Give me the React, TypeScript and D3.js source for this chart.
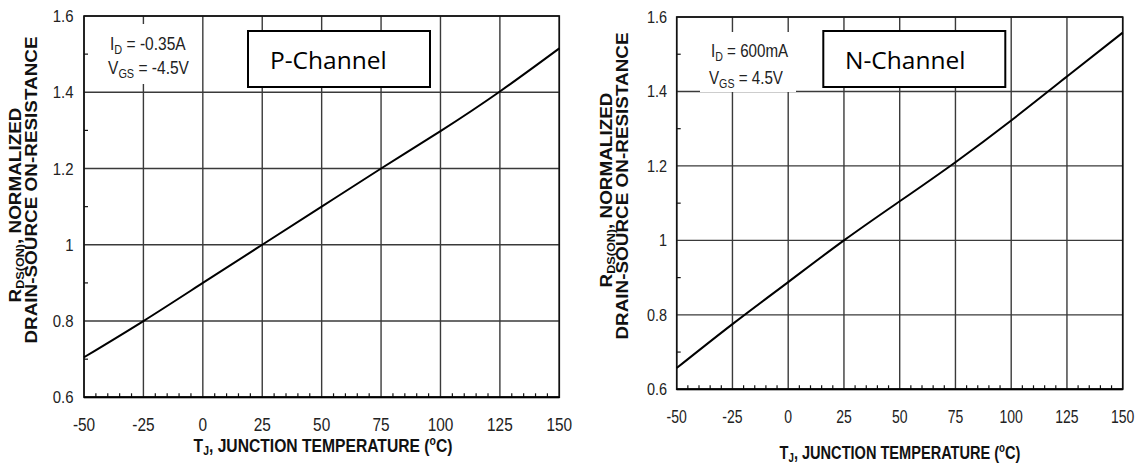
import React from 'react';
import * as d3 from 'd3';

// temperature points (deg C) and normalized RDS(on)
const temps = [-50, -25, 0, 25, 50, 75, 100, 125, 150];
const pChannel = [0.705, 0.8, 0.9, 1.0, 1.1, 1.2, 1.298, 1.402, 1.515];
const nChannel = [0.657, 0.775, 0.888, 1.0, 1.105, 1.21, 1.322, 1.44, 1.558];

const xTicks = [-50, -25, 0, 25, 50, 75, 100, 125, 150];
const xTickLabels = ['-50', '-25', '0', '25', '50', '75', '100', '125', '150'];
const yTicks = [0.6, 0.8, 1, 1.2, 1.4, 1.6];
const yTickLabels = ['0.6', '0.8', '1', '1.2', '1.4', '1.6'];
const xMinor = d3.range(-45, 150, 5).filter(t => t % 25 !== 0);
const yMinor = [0.7, 0.9, 1.1, 1.3, 1.5];

const panels = [
  {
    key: 'p',
    values: pChannel,
    channel: 'P-Channel',
    id: '-0.35A',
    vgs: '-4.5V',
    x0: 84, x1: 559.3, y0: 16, y1: 397.3,
    xLabelY: 430.5, xLabelSx: 0.88,
    yLabelRight: 73.5, yLabelSx: 0.88,
    xTitleX: 323, xTitleY: 451.5, xTitleSx: 0.87,
    yT1: { x: 20.5, y: 205 }, yT2: { x: 36.5, y: 190 },
    note: { x: 110, y1: 50, y2: 74, box: [100, 24, 95, 60], sx: 0.84 },
    chBox: [248, 31, 182, 56], chText: { x: 270, y: 69 },
  },
  {
    key: 'n',
    values: nChannel,
    channel: 'N-Channel',
    id: '600mA',
    vgs: '4.5V',
    x0: 676.7, x1: 1122.7, y0: 17, y1: 389.3,
    xLabelY: 422.5, xLabelSx: 0.8,
    yLabelRight: 667, yLabelSx: 0.85,
    xTitleX: 900, xTitleY: 458.5, xTitleSx: 0.81,
    yT1: { x: 611.5, y: 190 }, yT2: { x: 628.3, y: 186 },
    note: { x: 711, y1: 57, y2: 84, box: [700, 32, 96, 60], sx: 0.82 },
    chBox: [823.3, 31, 182, 56], chText: { x: 845, y: 69 },
  },
];

const grid = '#3a3a3a';
const txt = '#222';
const sans = "'Liberation Sans', Arial, sans-serif";

const Panel = ({ p }: { p: typeof panels[number] }) => {
  const x = d3.scaleLinear().domain([-50, 150]).range([p.x0, p.x1]);
  const y = d3.scaleLinear().domain([0.6, 1.6]).range([p.y1, p.y0]);
  const line = d3.line<number>()
    .x((_, i) => x(temps[i]))
    .y(d => y(d))
    .curve(d3.curveNatural);

  return (
    <g>
      {/* grid */}
      {xTicks.map(t => (
        <line key={'gx' + t} x1={x(t)} x2={x(t)} y1={p.y0} y2={p.y1} stroke={grid} strokeWidth={1.4} />
      ))}
      {yTicks.map(t => (
        <line key={'gy' + t} x1={p.x0} x2={p.x1} y1={y(t)} y2={y(t)} stroke={grid} strokeWidth={1.4} />
      ))}
      {/* minor ticks */}
      {xMinor.map(t => (
        <line key={'mx' + t} x1={x(t)} x2={x(t)} y1={p.y1} y2={p.y1 - 4} stroke="#111" strokeWidth={1.2} />
      ))}
      {yMinor.map(t => (
        <line key={'my' + t} x1={p.x0} x2={p.x0 + 4} y1={y(t)} y2={y(t)} stroke="#111" strokeWidth={1.2} />
      ))}
      {/* frame */}
      <rect x={p.x0} y={p.y0} width={p.x1 - p.x0} height={p.y1 - p.y0} fill="none" stroke="#111" strokeWidth={1.6} />
      <line x1={p.x0} x2={p.x1} y1={p.y1} y2={p.y1} stroke="#000" strokeWidth={2} />

      {/* annotation */}
      <rect x={p.note.box[0]} y={p.note.box[1]} width={p.note.box[2]} height={p.note.box[3]} fill="#fff" />
      <text transform={`translate(${p.note.x},${p.note.y1}) scale(${p.note.sx},1)`} fontFamily={sans} fontSize={18.5} fill={txt}>
        I<tspan fontSize={13} dy={4}>D</tspan><tspan dy={-4}>{' = ' + p.id}</tspan>
      </text>
      <text transform={`translate(${p.note.x - 2},${p.note.y2}) scale(${p.note.sx},1)`} fontFamily={sans} fontSize={18.5} fill={txt}>
        V<tspan fontSize={13} dy={4}>GS</tspan><tspan dy={-4}>{' = ' + p.vgs}</tspan>
      </text>

      {/* channel label */}
      <rect x={p.chBox[0]} y={p.chBox[1]} width={p.chBox[2]} height={p.chBox[3]} fill="#fff" stroke="#000" strokeWidth={2} />
      <text x={p.chText.x} y={p.chText.y} fontFamily="'Open Sans', 'Noto Sans', sans-serif" fontSize={24.5} fill="#000">
        {p.channel}
      </text>

      {/* curve */}
      <path d={line(p.values) || ''} fill="none" stroke="#000" strokeWidth={2} />

      {/* tick labels */}
      {xTicks.map((t, i) => (
        <text key={'lx' + t} transform={`translate(${x(t)},${p.xLabelY}) scale(${p.xLabelSx},1)`}
          textAnchor="middle" fontFamily={sans} fontSize={17.5} fill={txt}>{xTickLabels[i]}</text>
      ))}
      {yTicks.map((t, i) => (
        <text key={'ly' + t} transform={`translate(${p.yLabelRight},${y(t) + 6}) scale(${p.yLabelSx},1)`}
          textAnchor="end" fontFamily={sans} fontSize={17} fill={txt}>{yTickLabels[i]}</text>
      ))}

      {/* x title */}
      <text transform={`translate(${p.xTitleX},${p.xTitleY}) scale(${p.xTitleSx},1)`} textAnchor="middle"
        fontFamily={sans} fontSize={18} fontWeight="bold" fill="#111">
        T<tspan fontSize={12} dy={3}>J</tspan><tspan dy={-3}>, JUNCTION TEMPERATURE (</tspan>
        <tspan fontSize={12} dy={-7}>o</tspan><tspan dy={7}>C)</tspan>
      </text>

      {/* y title, two lines */}
      <text transform={`translate(${p.yT1.x},${p.yT1.y}) rotate(-90) scale(1,0.88)`} textAnchor="middle"
        fontFamily={sans} fontSize={18.9} fontWeight="bold" fill="#111">
        R<tspan fontSize={12.6} dy={4}>DS(ON)</tspan><tspan dy={-4}>, NORMALIZED</tspan>
      </text>
      <text transform={`translate(${p.yT2.x},${p.yT2.y}) rotate(-90) scale(1,0.88)`} textAnchor="middle"
        fontFamily={sans} fontSize={18.9} fontWeight="bold" fill="#111">
        DRAIN-SOURCE ON-RESISTANCE
      </text>
    </g>
  );
};

export default function App() {
  return (
    <svg width={1139} height={464} style={{ position: 'absolute', left: 0, top: 0, background: '#fff' }}>
      <rect width={1139} height={464} fill="#fff" />
      {panels.map(p => <Panel key={p.key} p={p} />)}
    </svg>
  );
}
